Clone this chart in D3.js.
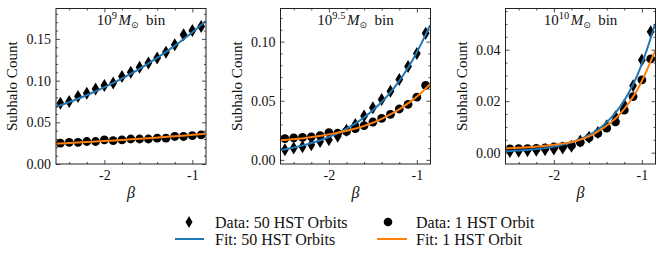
<!DOCTYPE html>
<html><head><meta charset="utf-8">
<script src="https://cdn.jsdelivr.net/npm/d3@7"></script>
<style>body{margin:0;background:#fff}text{font-family:"Liberation Serif","Times New Roman",serif;fill:#111}</style>
</head><body>
<script>
// ---- data ----
const beta = [-2.5,-2.4,-2.3,-2.2,-2.1,-2.0,-1.9,-1.8,-1.7,-1.6,-1.5,-1.4,-1.3,-1.2,-1.1,-1.0,-0.9];
const fitBeta = [-2.55,-2.45,-2.35,-2.25,-2.15,-2.05,-1.95,-1.85,-1.75,-1.65,-1.55,-1.45,-1.35,-1.25,-1.15,-1.05,-0.95,-0.85];

const data50_9 = [0.073,0.075,0.081,0.085,0.090,0.094,0.097,0.105,0.110,0.116,0.121,0.127,0.134,0.143,0.155,0.160,0.165];
const data1_9  = [0.025,0.026,0.026,0.027,0.027,0.029,0.028,0.029,0.030,0.030,0.030,0.031,0.031,0.033,0.033,0.034,0.035];
const fit50_9  = [0.0684,0.0722,0.0762,0.0804,0.0849,0.0896,0.0946,0.0998,0.1054,0.1112,0.1174,0.1239,0.1308,0.1380,0.1457,0.1538,0.1623,0.1713];
const fit1_9   = [0.0243,0.0248,0.0254,0.0260,0.0266,0.0272,0.0278,0.0285,0.0292,0.0299,0.0306,0.0313,0.0321,0.0329,0.0337,0.0345,0.0354,0.0363];

const data50_95 = [0.0085,0.0100,0.0110,0.0127,0.0155,0.0170,0.0200,0.0250,0.0300,0.0370,0.0440,0.0510,0.0580,0.0680,0.0790,0.0900,0.1070];
const data1_95  = [0.0180,0.0185,0.0190,0.0195,0.0205,0.0230,0.0225,0.0240,0.0265,0.0290,0.0320,0.0350,0.0385,0.0430,0.0470,0.0530,0.0630];
const fit50_95  = [0.00824,0.00962,0.01123,0.01311,0.01531,0.01787,0.02087,0.02437,0.02846,0.03322,0.03879,0.04530,0.05290,0.06177,0.07213,0.08421,0.09833,0.11400];
const fit1_95   = [0.0165,0.0172,0.0179,0.0188,0.0198,0.0209,0.0222,0.0237,0.0254,0.0275,0.0300,0.0330,0.0366,0.0405,0.0452,0.0505,0.0568,0.0640];

const data50_10 = [0.0005,0.0006,0.0007,0.0009,0.0011,0.0014,0.0018,0.0025,0.0045,0.0060,0.0078,0.0105,0.0140,0.0185,0.0260,0.0360,0.0470];
const data1_10  = [0.0015,0.0016,0.0016,0.0017,0.0019,0.0022,0.0024,0.0028,0.0040,0.0058,0.0075,0.0095,0.0120,0.0165,0.0218,0.0283,0.0364];
const fit50_10  = [0.00053,0.00070,0.00091,0.00120,0.00157,0.00206,0.00269,0.00353,0.00462,0.00605,0.00780,0.01030,0.01350,0.01770,0.02320,0.03020,0.03930,0.05000];
const fit1_10   = [0.00170,0.00185,0.00203,0.00225,0.00252,0.00285,0.00327,0.00380,0.00455,0.00560,0.00720,0.00930,0.01180,0.01500,0.01920,0.02450,0.03150,0.03950];

const titleExps = ["9","9.5","10"];
const xDomain = [-2.55,-0.845];
const xMajor = [-2,-1];
const xMajorLabels = ["-2","-1"];
const xMinor = [-2.4,-2.2,-1.8,-1.6,-1.4,-1.2];
const yDomains = [[0,0.1865],[-0.0035,0.128],[-0.0044,0.056]];
const yMajor = [[0,0.05,0.10,0.15],[0,0.05,0.10],[0,0.02,0.04]];
const yMajorLabels = [["0.00","0.05","0.10","0.15"],["0.00","0.05","0.10"],["0.00","0.02","0.04"]];
const yMinorStep = [0.01,0.01,0.005];
const legendLabels = ["Data: 50 HST Orbits","Data: 1 HST Orbit","Fit: 50 HST Orbits","Fit: 1 HST Orbit"];

const series = [
  {d50:data50_9, d1:data1_9, f50:fit50_9, f1:fit1_9},
  {d50:data50_95, d1:data1_95, f50:fit50_95, f1:fit1_95},
  {d50:data50_10, d1:data1_10, f50:fit50_10, f1:fit1_10}
];

// ---- layout ----
const W=665, H=277;
const BLUE="#1f77b4", ORANGE="#ff7f0e";
const lefts=[56,280.5,505.5], pw=150, pTop=8.5, pBottom=164;
const svg=d3.select("body").append("svg").attr("width",W).attr("height",H);

const diamond = (cx,cy,h,w)=>`M${cx},${cy-h/2}L${cx+w/2},${cy}L${cx},${cy+h/2}L${cx-w/2},${cy}Z`;

series.forEach((s,i)=>{
  const x=d3.scaleLinear().domain(xDomain).range([lefts[i],lefts[i]+pw]);
  const y=d3.scaleLinear().domain(yDomains[i]).range([pBottom,pTop]);
  const g=svg.append("g");
  const cid="clip"+i;
  svg.append("clipPath").attr("id",cid).append("rect")
    .attr("x",lefts[i]).attr("y",pTop).attr("width",pw).attr("height",pBottom-pTop);
  const pg=g.append("g").attr("clip-path",`url(#${cid})`);
  pg.selectAll(".dia").data(s.d50).enter().append("path")
    .attr("d",(v,k)=>diamond(x(beta[k]),y(v),13,7.8)).attr("fill","#000");
  pg.selectAll(".cir").data(s.d1).enter().append("circle")
    .attr("cx",(v,k)=>x(beta[k])).attr("cy",v=>y(v)).attr("r",4.4).attr("fill","#000");
  const line=d3.line().x((v,k)=>x(fitBeta[k])).y(v=>y(v)).curve(d3.curveMonotoneX);
  pg.append("path").attr("d",line(s.f50)).attr("fill","none").attr("stroke",BLUE).attr("stroke-width",2);
  pg.append("path").attr("d",line(s.f1)).attr("fill","none").attr("stroke",ORANGE).attr("stroke-width",2);

  const tickSize=4, minorSize=2;
  const ax=g.append("g");
  const yMin = d3.range(Math.ceil(yDomains[i][0]/yMinorStep[i]-1e-9), Math.floor(yDomains[i][1]/yMinorStep[i]+1e-9)+1)
      .map(k=>+(k*yMinorStep[i]).toFixed(4))
      .filter(v=>!yMajor[i].some(m=>Math.abs(m-v)<1e-6));
  ax.append("g").attr("transform",`translate(0,${pBottom})`)
    .call(d3.axisBottom(x).tickValues(xMajor).tickSize(-tickSize).tickPadding(6).tickFormat((d,k)=>xMajorLabels[k]));
  ax.append("g").attr("transform",`translate(0,${pBottom})`)
    .call(d3.axisBottom(x).tickValues(xMinor).tickSize(-minorSize).tickFormat(""));
  ax.append("g").attr("transform",`translate(0,${pTop})`)
    .call(d3.axisTop(x).tickValues(xMajor).tickSize(-tickSize).tickFormat(""));
  ax.append("g").attr("transform",`translate(0,${pTop})`)
    .call(d3.axisTop(x).tickValues(xMinor).tickSize(-minorSize).tickFormat(""));
  ax.append("g").attr("transform",`translate(${lefts[i]},0)`)
    .call(d3.axisLeft(y).tickValues(yMajor[i]).tickSize(-tickSize).tickPadding(5).tickFormat((d,k)=>yMajorLabels[i][k]));
  ax.append("g").attr("transform",`translate(${lefts[i]},0)`)
    .call(d3.axisLeft(y).tickValues(yMin).tickSize(-minorSize).tickFormat(""));
  ax.append("g").attr("transform",`translate(${lefts[i]+pw},0)`)
    .call(d3.axisRight(y).tickValues(yMajor[i]).tickSize(-tickSize).tickFormat(""));
  ax.append("g").attr("transform",`translate(${lefts[i]+pw},0)`)
    .call(d3.axisRight(y).tickValues(yMin).tickSize(-minorSize).tickFormat(""));
  ax.selectAll(".domain").remove();
  ax.selectAll("line").attr("stroke","#222").attr("stroke-width",0.8);
  ax.selectAll("text").style("font-family","'Liberation Serif',serif").style("font-size","14px").attr("fill","#111");
  g.append("rect").attr("x",lefts[i]).attr("y",pTop).attr("width",pw).attr("height",pBottom-pTop)
    .attr("fill","none").attr("stroke","#222").attr("stroke-width",1);

  const cx=lefts[i]+pw/2;
  const t=g.append("text").attr("x",cx).attr("y",25).attr("text-anchor","middle").style("font-size","15px");
  t.append("tspan").text("10");
  t.append("tspan").attr("dy",-6).style("font-size","10.5px").text(titleExps[i]);
  t.append("tspan").attr("dy",6).attr("dx",1.5).style("font-style","italic").text("M");
  t.append("tspan").attr("dy",3).style("font-size","9px").style("font-family","'DejaVu Sans',sans-serif").text("\u2299");
  t.append("tspan").attr("dy",-3).text("\u00a0 bin");

  g.append("text").attr("x",cx).attr("y",198).attr("text-anchor","middle")
    .style("font-style","italic").style("font-size","16px").text("β");
  g.append("text").attr("transform",`translate(${lefts[i]-42},${(pTop+pBottom)/2}) rotate(-90)`)
    .attr("text-anchor","middle").attr("dominant-baseline","middle").style("font-size","15px").text("Subhalo Count");
});

const lg=svg.append("g");
const rows=[222,239];
lg.append("path").attr("d",diamond(189,rows[0],12,7)).attr("fill","#000");
lg.append("circle").attr("cx",388).attr("cy",rows[0]).attr("r",4.3).attr("fill","#000");
lg.append("line").attr("x1",175).attr("x2",204).attr("y1",rows[1]).attr("y2",rows[1]).attr("stroke",BLUE).attr("stroke-width",2);
lg.append("line").attr("x1",377).attr("x2",407).attr("y1",rows[1]).attr("y2",rows[1]).attr("stroke",ORANGE).attr("stroke-width",2);
const lx=[215,416];
legendLabels.forEach((l,k)=>{
  lg.append("text").attr("x",lx[k%2]).attr("y",rows[Math.floor(k/2)]).attr("dominant-baseline","central")
    .style("font-size","16px").text(l);
});
</script>
</body></html>
